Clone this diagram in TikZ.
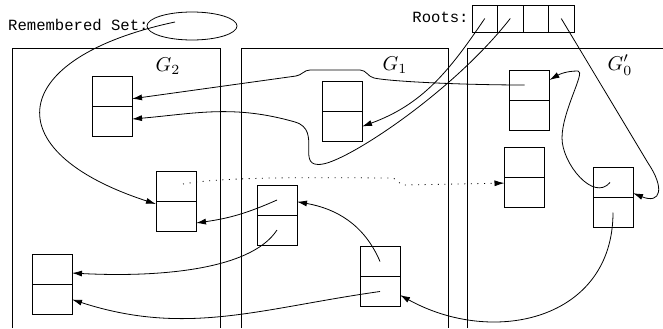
\documentclass[tikz,border=0pt]{standalone}
\usepackage{fontspec}
\setmonofont{Liberation Mono}
\usetikzlibrary{positioning,shapes.geometric,arrows.meta}

\begin{document}
\begin{tikzpicture}[x=0.5pt,y=0.5pt,
	cell/.style={draw=black,rectangle,minimum width=20pt,minimum height=15pt,inner sep=0pt,outer sep=0pt},
	rootcell/.style={draw=black,rectangle,minimum width=12.75pt,minimum height=13.5pt,inner sep=0pt,outer sep=0pt},
	ptr/.style={->,>={Latex[length=5pt,width=3pt]},draw=black},
	lbl/.style={font=\fontsize{7.8}{9}\selectfont\ttfamily,inner sep=0pt}]

	\useasboundingbox (0,0) rectangle (663,328);

	% generations
	\draw (12,0) |- (220,280) -- (220,0);
	\draw (241,0) |- (448,280) -- (448,0);
	\draw (467,0) |- (663,280);
	\node (lab2) at (168,262) {$G_2$};
	\node (lab1) at (395,263) {$G_1$};
	\node (lab0) at (620,263) {$G'_0$};

	% remembered set and roots
	\node[lbl,anchor=east] (remtxt) at (149,303) {Remembered Set:};
	\node[draw=black,ellipse,minimum width=45pt,minimum height=14pt,inner sep=0pt] (rset) at (192,302) {};
	\node[lbl,anchor=east] (roottxt) at (469,311) {Roots:};
	\node[rootcell] (r1) at (484.75,309.5) {};
	\node[rootcell,right=0pt of r1] (r2) {};
	\node[rootcell,right=0pt of r2] (r3) {};
	\node[rootcell,right=0pt of r3] (r4) {};

	% objects
	\node[cell] (a1) at (112,236.5) {};
	\node[cell,below=0pt of a1] (a2) {};
	\node[cell] (b1) at (176,141.5) {};
	\node[cell,below=0pt of b1] (b2) {};
	\node[cell] (c1) at (52,58.5) {};
	\node[cell,below=0pt of c1] (c2) {};
	\node[cell] (d1) at (342,231.5) {};
	\node[cell,below=0pt of d1] (d2) {};
	\node[cell] (e1) at (277,128) {};
	\node[cell,below=0pt of e1] (e2) {};
	\node[cell] (f1) at (380,66.5) {};
	\node[cell,below=0pt of f1] (f2) {};
	\node[cell] (g1) at (529.5,243) {};
	\node[cell,below=0pt of g1] (g2) {};
	\node[cell] (h1) at (524.5,166) {};
	\node[cell,below=0pt of h1] (h2) {};
	\node[cell] (i1) at (613,145.5) {};
	\node[cell,below=0pt of i1] (i2) {};

	% pointers
	\path[ptr] ([shift={(-17,4)}]rset.center) to[out=192,in=162,looseness=2.4] (b2.148);
	\path[ptr] ([xshift=-2.5pt]g1.center) to[out=180,in=-12,in looseness=.3] (374,250) to[out=168,in=0] (360,258) -- (310,258) to[out=180,in=8] (296,252) -- (a1.-20);
	\path[ptr] (r2.center) to[out=232,in=10,in looseness=.3] (323,164) to[out=190,in=-16,looseness=1.5] (295,206) to[out=164,in=5] (a2.7);
	\path[ptr] (r1.center) to[out=236,in=20] (d2.east);
	\path[ptr] (r4.center) -- (648,165) to[out=-56,in=-22,looseness=2.3] (i1.-28);
	\path[ptr] ([xshift=-1.5pt]i1.center) to[out=230,in=-90] (562,190) to[out=90,in=0,in looseness=.3] (578,257) to[out=180,in=30] (g1.14);
	\path[ptr] (i2.center) to[out=-90,in=-29,looseness=1.2] (f2.-10);
	\path[ptr] (f1.center) to[out=113,in=-10] (e1.-5);
	\path[ptr] (f2.center) to[out=188,in=-18] (c2.east);
	\path[ptr] (e1.center) to[out=204,in=8] (b2.-18);
	\path[ptr] (e2.center) to[out=237,in=-3,out looseness=.6] (c1.-10);
	\path[ptr,dash pattern=on .5pt off 2.8pt] ([xshift=3.5pt,yshift=1.25pt]b1.center) to[out=10,in=180,looseness=.6] (392,150) to[out=0,in=180] (404,143) -- (h2.156);

\end{tikzpicture}
\end{document}
